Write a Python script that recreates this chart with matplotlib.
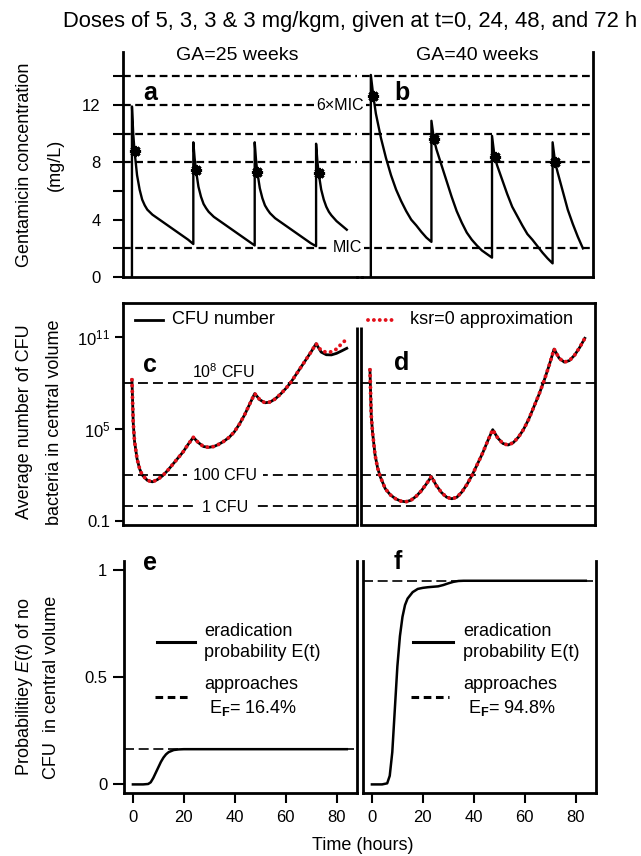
import numpy as np
import matplotlib.pyplot as plt
from matplotlib.lines import Line2D

plt.rcParams['font.family'] = ['Liberation Sans', 'DejaVu Sans']
plt.rcParams['mathtext.fontset'] = 'custom'
plt.rcParams['mathtext.rm'] = 'Liberation Sans'
plt.rcParams['mathtext.it'] = 'Liberation Sans:italic'
plt.rcParams['mathtext.bf'] = 'Liberation Sans:bold'

# ---- data ----
dose_times = [0, 24, 48, 72]

# gentamicin concentration (mg/L), hours after each dose
rel_a = [0, 0.5, 1, 2, 3, 4, 5, 6, 8, 10, 12, 14, 16, 18, 20, 22, 24]
conc_a = [
    [11.9, 10.0, 8.8, 7.1, 6.1, 5.4, 5.0, 4.7, 4.35, 4.1, 3.85, 3.6, 3.35, 3.1, 2.85, 2.6, 2.3],
    [9.4, 8.3, 7.5, 6.3, 5.6, 5.1, 4.8, 4.55, 4.2, 3.95, 3.7, 3.45, 3.2, 2.95, 2.7, 2.45, 2.2],
    [9.4, 8.2, 7.35, 6.2, 5.5, 5.0, 4.7, 4.45, 4.1, 3.85, 3.6, 3.35, 3.1, 2.85, 2.6, 2.35, 2.15],
    [9.3, 8.1, 7.25, 6.1, 5.4, 4.9, 4.55, 4.3, 3.9, 3.6, 3.3],
]
rel_b = [0, 1, 2, 4, 6, 8, 10, 12, 14, 16, 18, 20, 22, 24]
conc_b = [
    [14.1, 12.6, 11.4, 9.7, 8.3, 7.1, 6.1, 5.3, 4.6, 4.0, 3.6, 3.15, 2.75, 2.45],
    [10.9, 9.6, 8.9, 7.8, 6.7, 5.6, 4.6, 3.8, 3.1, 2.6, 2.2, 1.85, 1.6, 1.35],
    [9.85, 8.4, 7.8, 6.8, 5.8, 4.9, 4.25, 3.6, 3.0, 2.6, 2.15, 1.7, 1.3, 0.95],
    [9.4, 8.0, 7.3, 6.0, 4.7, 3.7, 2.8, 2.0],
]
marker_a = [8.8, 7.5, 7.35, 7.25]
marker_b = [12.6, 9.6, 8.4, 8.0]
conc_lines = [2, 8, 10, 12, 14]

# log10 of average CFU number
cfu_t = [0, 0.5, 1, 2, 3, 4, 6, 8, 10, 12, 14, 16, 18, 20, 22, 24, 26, 28, 30, 32,
         34, 36, 38, 40, 42, 44, 46, 48, 50, 52, 54, 56, 58, 60, 62, 64, 66, 68,
         70, 72, 74, 76, 78, 80, 82, 84]
logcfu_c = [8.2, 5.4, 4.2, 3.05, 2.4, 2.0, 1.65, 1.55, 1.7, 1.95, 2.3, 2.7, 3.1, 3.5,
            4.0, 4.45, 4.1, 3.85, 3.8, 3.85, 4.0, 4.2, 4.45, 4.8, 5.3, 5.9, 6.6, 7.3,
            6.9, 6.7, 6.75, 6.95, 7.25, 7.6, 8.0, 8.5, 9.0, 9.5, 10.0, 10.55,
            10.0, 9.83, 9.82, 9.92, 10.08, 10.25]
logcfu_c_ksr_tail = [10.1, 9.99, 10.02, 10.2, 10.55, 10.85]   # t = 74..84
logcfu_d = [8.85, 5.9, 4.8, 3.3, 2.45, 1.9, 1.1, 0.7, 0.45, 0.3, 0.25, 0.35, 0.6, 0.95,
            1.4, 1.9, 1.3, 0.85, 0.55, 0.45, 0.55, 0.9, 1.4, 2.0, 2.7, 3.4, 4.2, 4.95,
            4.4, 4.05, 3.95, 4.1, 4.45, 4.95, 5.6, 6.4, 7.2, 8.1, 9.1, 10.2,
            9.6, 9.35, 9.45, 9.8, 10.3, 10.9]
cfu_lines = [1e8, 1e2, 1]

# eradication probability
e_t = [0, 2, 4, 6, 7, 8, 9, 10, 11, 12, 13, 14, 16, 18, 20, 30, 40, 50, 60, 70, 80, 84]
e_vals = [0, 0, 0, 0.002, 0.01, 0.03, 0.055, 0.08, 0.105, 0.125, 0.14, 0.15, 0.16,
          0.163, 0.164, 0.164, 0.164, 0.164, 0.164, 0.164, 0.164, 0.164]
f_t = [0, 2, 4, 6, 7, 8, 9, 10, 11, 12, 13, 14, 16, 18, 20, 22, 24, 26, 28, 30, 32,
       34, 36, 40, 50, 60, 70, 80, 84]
f_vals = [0, 0, 0, 0.005, 0.04, 0.15, 0.35, 0.55, 0.69, 0.78, 0.835, 0.865, 0.895,
          0.91, 0.915, 0.918, 0.92, 0.922, 0.928, 0.936, 0.943, 0.947, 0.948, 0.948,
          0.948, 0.948, 0.948, 0.948, 0.948]
EF_e, EF_f = 0.164, 0.948

# ---- layout helpers (pixel coords of the 641x856 canvas) ----
W, H = 641, 856
fig = plt.figure(figsize=(W / 100, H / 100), dpi=100)


def add_ax(x0, y0, x1, y1):
    return fig.add_axes([x0 / W, 1 - y1 / H, (x1 - x0) / W, (y1 - y0) / H])


def ftext(x, y, s, **kw):
    return fig.text(x / W, 1 - y / H, s, **kw)


def fline(xs, ys, **kw):
    fig.add_artist(Line2D([x / W for x in xs], [1 - y / H for y in ys], **kw))


XLIM = (-3.5, 88)
SPW = 2.0
RED = '#e3101a'


def style(ax, sides):
    for s in ['left', 'right', 'top', 'bottom']:
        ax.spines[s].set_visible(s in sides)
        ax.spines[s].set_linewidth(SPW)
    ax.set_xlim(*XLIM)
    ax.tick_params(width=1.5, length=6, labelsize=12)


def dose_curve(rel, segs):
    t, c = [0], [0]
    for d, seg in zip(dose_times, segs):
        t += [d + r for r in rel[:len(seg)]]
        c += seg
    return t, c


# ---- top row: concentration ----
ax_a = add_ax(123, 52, 357, 277)
ax_b = add_ax(362, 52, 593, 277)
for ax, rel, segs, mk, sides in [(ax_a, rel_a, conc_a, marker_a, ['left', 'bottom']),
                                 (ax_b, rel_b, conc_b, marker_b, ['right', 'bottom'])]:
    style(ax, sides)
    ax.set_ylim(0, 15.7)
    t, c = dose_curve(rel, segs)
    ax.plot(t, c, color='black', lw=1.7, zorder=3)
    ax.plot([d + 1 for d in dose_times], mk, ls='none', marker=(8, 2, 0),
            ms=8, mew=2.2, color='black', zorder=4)
    for v in conc_lines:
        ax.axhline(v, color='black', lw=1.6, ls=(0, (3.5, 2)), zorder=2)
    ax.set_xticks([])
ax_a.set_yticks(range(0, 15, 2))
ax_a.set_yticklabels([str(v) if v % 4 == 0 else '' for v in range(0, 15, 2)])
ax_a.tick_params(axis='y', length=7, pad=9)
ax_b.set_yticks([])
fline([357, 362], [277, 277], color='black', lw=SPW)

ftext(340, 105, '6×MIC', fontsize=11.5, ha='center', va='center',
      bbox=dict(fc='white', ec='none', pad=1.5), zorder=10)
ftext(347, 248, 'MIC', fontsize=11.5, ha='center', va='center',
      bbox=dict(fc='white', ec='none', pad=2), zorder=10)

# ---- middle row: CFU ----
ax_c = add_ax(123, 303, 357, 525)
ax_d = add_ax(361, 303, 595, 525)
inner_top = (525 - 327) / (525 - 303)
logcfu_c_ksr = logcfu_c[:len(cfu_t) - len(logcfu_c_ksr_tail)] + logcfu_c_ksr_tail
for ax, lg, lg_ksr, sides, inner in [
        (ax_c, logcfu_c, logcfu_c_ksr, ['left', 'bottom'], 1.0),
        (ax_d, logcfu_d, logcfu_d, ['right', 'bottom'], 0.0)]:
    style(ax, sides)
    ax.set_yscale('log')
    ax.set_ylim(10 ** -1.26, 10 ** 13.2)
    ax.plot(cfu_t, [10 ** v for v in lg], color='black', lw=2.0, zorder=3)
    ax.plot(cfu_t, [10 ** v for v in lg_ksr], color=RED, lw=2.8,
            ls=(0, (0.01, 1.5)), dash_capstyle='round', zorder=4)
    for v in cfu_lines:
        ax.axhline(v, color='black', lw=1.3, ls=(0, (5.5, 2.8)), zorder=2)
    ax.set_xticks([])
    ax.minorticks_off()
    ax.plot([inner, inner], [0, inner_top], transform=ax.transAxes,
            color='black', lw=SPW, clip_on=False, solid_capstyle='butt')
ax_c.set_yticks([1e-1, 1e5, 1e11])
ax_c.set_yticklabels(['0.1', r'$10^5$', r'$10^{11}$'])
ax_c.tick_params(axis='y', pad=3)
ax_d.set_yticks([])
fline([123, 595], [303, 303], color='black', lw=SPW)

ftext(223, 372, r'$10^8$ CFU', fontsize=11.5, ha='center', va='center')
ftext(225, 475, '100 CFU', fontsize=11.5, ha='center', va='center',
      bbox=dict(fc='white', ec='none', pad=4), zorder=10)
ftext(225, 507, '1 CFU', fontsize=11.5, ha='center', va='center',
      bbox=dict(fc='white', ec='none', pad=4), zorder=10)

fline([135, 163], [320, 320], color='black', lw=2.0)
ftext(172, 320, 'CFU number', fontsize=13, ha='left', va='center')
fline([368, 397], [320, 320], color=RED, lw=2.8, ls=(0, (0.01, 1.5)),
      dash_capstyle='round')
ftext(410, 320, 'ksr=0 approximation', fontsize=13, ha='left', va='center')

# ---- bottom row: eradication probability ----
ax_e = add_ax(124, 561, 357, 793)
ax_f = add_ax(363, 561, 596, 793)
for ax, t, v, ef in [(ax_e, e_t, e_vals, EF_e), (ax_f, f_t, f_vals, EF_f)]:
    style(ax, ['left', 'bottom', 'right'])
    ax.set_ylim(-0.04, 1.04)
    ax.axhline(ef, color='black', lw=1.2, ls=(0, (6, 2.8)), zorder=2)
    ax.plot(t, v, color='black', lw=1.8, zorder=3)
    ax.set_xticks([0, 20, 40, 60, 80])
    ax.tick_params(axis='x', length=7, pad=5)
ax_e.set_yticks([0, 0.5, 1])
ax_e.set_yticklabels(['0', '0.5', '1'])
ax_e.tick_params(axis='y', length=8, pad=4)
ax_f.set_yticks([])

for x_line, x_txt, ef in [((157, 195), 204, EF_e), ((413, 453), 463, EF_f)]:
    fline(list(x_line), [642, 642], color='black', lw=2.2)
    ftext(x_txt, 642, 'eradication\nprobability E(t)', fontsize=13,
          ha='left', va='center', linespacing=1.35)
    fline([x_line[0] - 2, x_line[1] - 4], [697, 697], color='black', lw=2.2,
          ls=(0, (2.5, 1.5)))
    ftext(x_txt, 697, 'approaches\n' + r' E$_{\mathbf{F}}$= ' + f'{ef * 100:.1f}%',
          fontsize=13, ha='left', va='center', linespacing=1.35)

# ---- titles, panel letters, axis labels ----
ftext(350, 22, 'Doses of 5, 3, 3 & 3 mg/kgm, given at t=0, 24, 48, and 72 h',
      fontsize=15.8, ha='center', va='center')
ftext(237, 55, 'GA=25 weeks', fontsize=14, ha='center', va='center')
ftext(477, 55, 'GA=40 weeks', fontsize=14, ha='center', va='center')
for s, x, y in [('a', 150, 93), ('b', 402, 93), ('c', 150, 365), ('d', 402, 363),
                ('e', 150, 563), ('f', 398, 562)]:
    ftext(x, y, s, fontsize=18, fontweight='bold', ha='center', va='center')

for x, y, s in [(25, 165, 'Gentamicin concentration'), (55, 165, '(mg/L)'),
                (25, 422, 'Average number of CFU'), (55, 422, 'bacteria in central volume'),
                (25, 687, r'Probabilitiey $E(t)$ of no'), (52, 687, 'CFU  in central volume')]:
    ftext(x, y, s, fontsize=13, rotation=90, ha='center', va='center')
ftext(363, 845, 'Time (hours)', fontsize=13, ha='center', va='center')

fig.savefig('out.png', dpi=100)
